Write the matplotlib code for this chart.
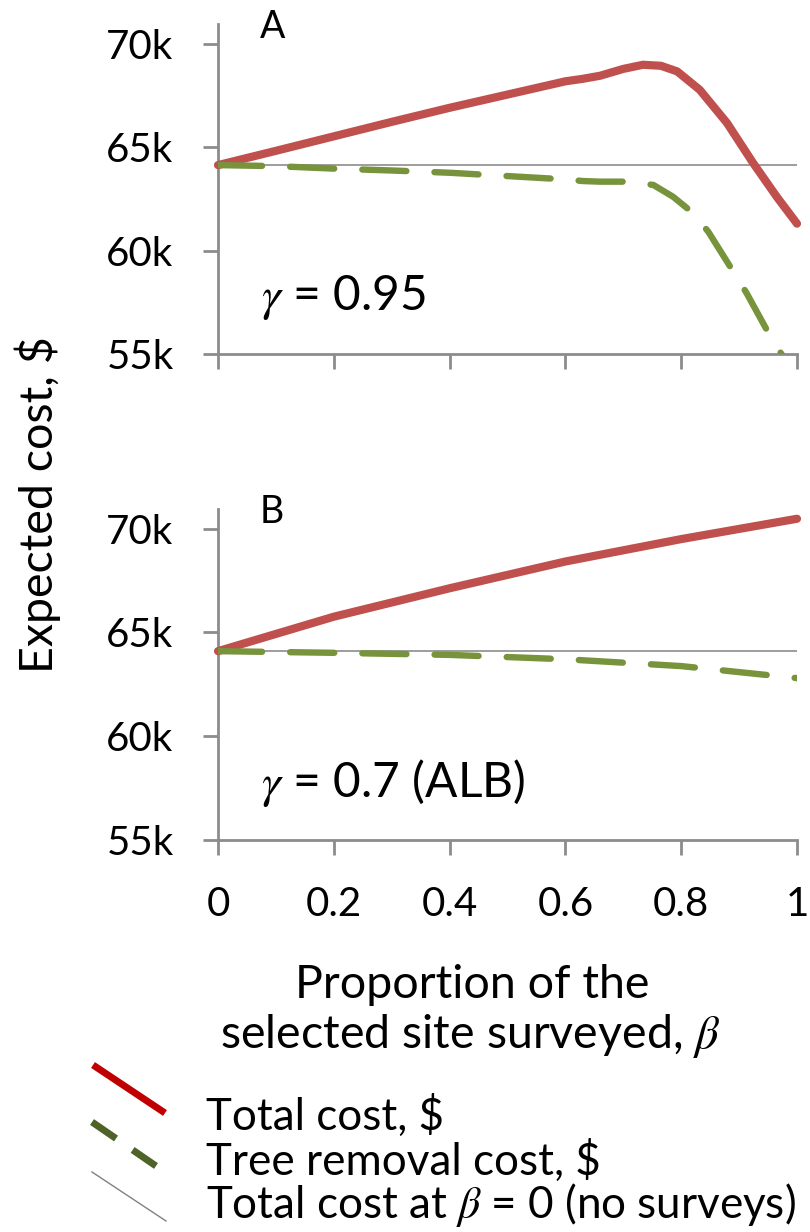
import matplotlib
matplotlib.use("Agg")
import matplotlib.pyplot as plt
from matplotlib.lines import Line2D

plt.rcParams['font.family'] = ['Lato', 'DejaVu Sans']
plt.rcParams['mathtext.fontset'] = 'stix'

# panel A (gamma = 0.95), values in $k
beta_a = [0.0, 0.1, 0.2, 0.3, 0.4, 0.5, 0.6, 0.63, 0.66, 0.70, 0.734, 0.765, 0.793, 0.832,
          0.879, 0.924, 0.965, 1.0]
total_a = [64.13, 64.82, 65.52, 66.22, 66.90, 67.54, 68.18, 68.30, 68.45, 68.78, 68.98, 68.93,
           68.66, 67.77, 66.17, 64.24, 62.60, 61.30]
beta_a_tr = [0.0, 0.1, 0.2, 0.3, 0.4, 0.5, 0.6, 0.63, 0.66, 0.71, 0.752, 0.786, 0.821, 0.847,
             0.89, 0.913, 0.953, 0.976, 1.0]
tree_a = [64.13, 64.08, 63.96, 63.87, 63.76, 63.60, 63.44, 63.36, 63.33, 63.33, 63.17, 62.60,
          61.80, 60.90, 58.98, 57.94, 55.90, 54.87, 54.20]

# panel B (gamma = 0.7, ALB)
beta_b = [0.0, 0.2, 0.4, 0.6, 0.8, 1.0]
total_b = [64.10, 65.76, 67.13, 68.42, 69.50, 70.48]
tree_b = [64.10, 64.02, 63.92, 63.71, 63.38, 62.80]

baseline = 64.13  # total cost at beta = 0
y_ticks = [55, 60, 65, 70]
x_ticks = [0, 0.2, 0.4, 0.6, 0.8, 1]
x_ticklabels = ['0', '0.2', '0.4', '0.6', '0.8', '1']

red = '#C0504D'
green = '#77933C'
grey = '#8C8C8C'
W, H = 810, 1232

fig = plt.figure(figsize=(W / 100, H / 100), dpi=100)


def make_panel(bottom_px, top_px, bx, tot, bx_tr, tr, letter, gamma_txt, show_x):
    ax = fig.add_axes([218 / W, 1 - bottom_px / H, 579 / W, (bottom_px - top_px) / H])
    ax.plot(bx, tot, color=red, lw=5.9, solid_capstyle='round', solid_joinstyle='round',
            clip_on=False, zorder=3)
    ax.plot(bx_tr, tr, color=green, lw=4.6, dashes=(6.9, 4.4), dash_capstyle='round',
            dash_joinstyle='round', zorder=3)
    ax.axhline(baseline, color=grey, lw=1.2, zorder=2)
    ax.set_xlim(0, 1)
    ax.set_ylim(55, 70.95)
    ax.set_yticks(y_ticks)
    ax.set_yticklabels([f'{v}k' for v in y_ticks])
    ax.set_xticks(x_ticks)
    if show_x:
        ax.set_xticklabels(x_ticklabels)
    else:
        ax.set_xticklabels([])
    for s in ['top', 'right']:
        ax.spines[s].set_visible(False)
    for s in ['left', 'bottom']:
        ax.spines[s].set_color(grey)
        ax.spines[s].set_linewidth(2.0)
    ax.tick_params(axis='both', colors=grey, width=2.0, length=11, labelcolor='black',
                   labelsize=29)
    ax.tick_params(axis='y', pad=21)
    ax.tick_params(axis='x', pad=22)
    ax.text(0.072, 0.99, letter, transform=ax.transAxes, fontsize=27, va='center', ha='left')
    ax.text(0.075, 0.171, gamma_txt, transform=ax.transAxes, fontsize=34.5, va='center', ha='left')
    return ax


make_panel(354, 24, beta_a, total_a, beta_a_tr, tree_a, 'A', r'$\gamma$ = 0.95', False)
make_panel(840, 509, beta_b, total_b, beta_b, tree_b, 'B', r'$\gamma$ = 0.7 (ALB)', True)

fig.text(38 / W, 1 - 505 / H, 'Expected cost, $', rotation=90, fontsize=33.5, ha='center', va='center')
fig.text(472 / W, 1 - 998 / H, 'Proportion of the', fontsize=33.5, ha='center', va='baseline')
fig.text(470 / W, 1 - 1048 / H, r'selected site surveyed, $\beta$', fontsize=33.5, ha='center', va='baseline')

# legend, drawn by hand
fig.add_artist(Line2D([93 / W, 165 / W], [1 - 1065 / H, 1 - 1113 / H], color='#C00000', lw=5,
                      solid_capstyle='butt'))
fig.add_artist(Line2D([92 / W, 156 / W], [1 - 1122 / H, 1 - 1166 / H], color='#4F6228', lw=5,
                      dashes=(4.2, 2.9), dash_capstyle='butt'))
fig.add_artist(Line2D([92 / W, 166 / W], [1 - 1172 / H, 1 - 1221 / H], color='#808080', lw=1))
fig.text(206 / W, 1 - 1130 / H, 'Total cost, $', fontsize=31.7, va='baseline', ha='left')
fig.text(206 / W, 1 - 1175 / H, 'Tree removal cost, $', fontsize=31.7, va='baseline', ha='left')
fig.text(206 / W, 1 - 1218 / H, r'Total cost at $\beta$ = 0 (no surveys)', fontsize=31.7,
         va='baseline', ha='left')

fig.savefig('out.png', dpi=100)
